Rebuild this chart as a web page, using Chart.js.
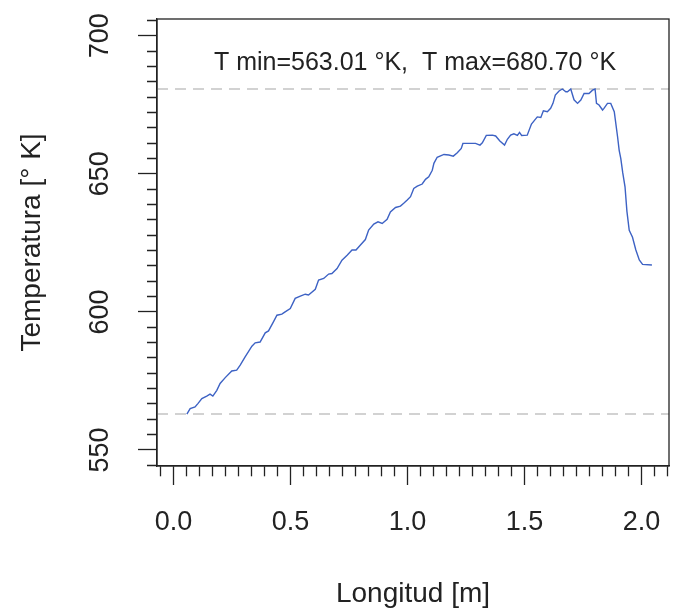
<!DOCTYPE html>
<html><head><meta charset="utf-8">
<script src="https://cdn.jsdelivr.net/npm/chart.js@4.4.1/dist/chart.umd.min.js"></script>
<style>html,body{margin:0;padding:0;background:#fff;} #wrap{width:675px;height:614px;position:relative;}</style>
</head><body><div id="wrap"><canvas id="c"></canvas></div>
<script>
// ---- data ----
const longitud = [0.057,0.071,0.092,0.104,0.121,0.142,0.156,0.168,0.185,0.199,0.221,0.249,0.270,0.285,0.306,0.335,0.349,0.370,0.392,0.406,0.427,0.442,0.463,0.477,0.499,0.520,0.542,0.563,0.577,0.606,0.620,0.642,0.663,0.677,0.699,0.720,0.742,0.763,0.780,0.799,0.820,0.834,0.856,0.874,0.892,0.913,0.927,0.949,0.970,0.984,0.999,1.013,1.027,1.042,1.063,1.077,1.091,1.106,1.113,1.127,1.156,1.177,1.196,1.213,1.230,1.237,1.263,1.291,1.310,1.320,1.337,1.363,1.377,1.395,1.415,1.427,1.441,1.455,1.470,1.479,1.488,1.512,1.530,1.555,1.570,1.581,1.598,1.612,1.622,1.632,1.648,1.662,1.677,1.684,1.698,1.712,1.727,1.741,1.755,1.776,1.791,1.802,1.808,1.819,1.834,1.840,1.855,1.869,1.884,1.898,1.905,1.912,1.920,1.930,1.938,1.948,1.962,1.976,1.991,2.005,2.045];
const temperatura = [563.0,565.0,565.6,566.8,568.6,569.5,570.2,569.5,571.6,574.1,576.2,578.6,578.9,580.7,583.7,587.6,588.8,589.1,592.4,593.1,596.4,598.8,599.2,600.0,601.2,604.9,605.7,606.4,606.1,608.2,611.5,612.1,613.7,613.9,615.7,618.7,620.5,622.4,622.4,624.2,626.2,629.6,631.8,632.6,632.0,633.5,636.2,637.8,638.3,639.3,640.5,641.7,644.7,645.5,646.3,648.0,648.9,651.3,653.8,656.0,657.0,656.8,656.4,657.6,659.2,661.0,661.0,661.0,660.4,661.2,663.9,664.0,663.7,661.9,660.4,662.5,664.0,664.5,663.9,665.0,663.9,664.0,668.0,670.6,670.4,672.8,672.5,673.7,675.5,678.5,680.0,680.7,679.7,679.7,680.7,676.8,675.5,676.7,679.1,679.1,680.3,680.7,675.5,674.9,673.1,673.7,675.5,675.5,672.5,663.5,658.5,655.5,650.5,645.3,636.5,629.5,627.0,622.5,618.8,617.2,617.0];
const refLines = [563.01, 680.70];
const xTickValues = [0, 0.5, 1.0, 1.5, 2.0];
const xTickLabels = ['0.0', '0.5', '1.0', '1.5', '2.0'];
const yTickValues = [550, 600, 650, 700];
const yTickLabels = ['550', '600', '650', '700'];
const annotationText = 'T min=563.01 °K,  T max=680.70 °K';
const xTitle = 'Longitud [m]';
const yTitle = 'Temperatura [° K]';

// ---- styling / layout ----
const FONT = '"Liberation Sans", Arial, sans-serif';
const INK = '#222';
const MAJOR_LEN = 19, MINOR_LEN = 10, MINOR_DIV = 9;
const X_MIN = -0.0707, X_MAX = 2.118, Y_MIN = 544.2, Y_MAX = 706.05;

function buildTicks(majors, lo, hi) {
  const step = (majors[1] - majors[0]) / MINOR_DIV;
  const out = [];
  for (let k = -MINOR_DIV; k <= (majors.length) * MINOR_DIV; k++) {
    const v = majors[0] + k * step;
    if (v >= lo - 1e-9 && v <= hi + 1e-9) out.push({ value: v });
  }
  return out;
}
function majorIndex(majors, v) {
  return majors.findIndex(m => Math.abs(m - v) < 1e-6);
}

const points = longitud.map((x, i) => ({ x, y: temperatura[i] }));

const framePlugin = {
  id: 'frame',
  beforeDatasetsDraw(chart) {
    const { ctx, chartArea: a, scales: { y } } = chart;
    ctx.save();
    ctx.strokeStyle = '#c4c4c4';
    ctx.lineWidth = 1.5;
    ctx.setLineDash([11, 7]);
    refLines.forEach(v => {
      const py = y.getPixelForValue(v);
      ctx.beginPath(); ctx.moveTo(a.left, py); ctx.lineTo(a.right, py); ctx.stroke();
    });
    ctx.restore();
  },
  afterDatasetsDraw(chart) {
    const { ctx, chartArea: a, scales: { y } } = chart;
    ctx.save();
    ctx.strokeStyle = INK;
    ctx.lineWidth = 1.3;
    ctx.strokeRect(a.left, a.top, a.right - a.left, a.bottom - a.top);
    ctx.fillStyle = '#222';
    ctx.font = '25px ' + FONT;
    ctx.textAlign = 'center';
    ctx.textBaseline = 'middle';
    ctx.fillText(annotationText, (a.left + a.right) / 2 + 2, y.getPixelForValue(690));
    ctx.restore();
  }
};

new Chart(document.getElementById('c'), {
  type: 'line',
  data: {
    datasets: [{
      data: points,
      borderColor: '#3d62c4',
      borderWidth: 1.4,
      pointRadius: 0,
      tension: 0,
      fill: false
    }]
  },
  options: {
    responsive: true,
    maintainAspectRatio: false,
    animation: false,
    events: [],
    layout: { padding: { left: 0, top: 19, right: 6, bottom: 0 } },
    plugins: { legend: { display: false }, tooltip: { enabled: false } },
    scales: {
      x: {
        type: 'linear',
        position: 'bottom',
        min: X_MIN, max: X_MAX,
        afterBuildTicks: s => { s.ticks = buildTicks(xTickValues, X_MIN, X_MAX); },
        afterFit: s => { s.height = 148; s.paddingLeft = 0; s.paddingRight = 0; },
        border: { display: true, color: INK, width: 1.3 },
        grid: {
          drawOnChartArea: false, drawTicks: true, tickLength: MAJOR_LEN,
          tickColor: INK, tickWidth: 1.3,
          tickBorderDash: ctx => majorIndex(xTickValues, ctx.tick.value) >= 0 ? [] : [MINOR_LEN, 40]
        },
        ticks: {
          autoSkip: false, maxRotation: 0, minRotation: 0, padding: 21,
          color: INK, font: { family: FONT, size: 27 },
          callback: v => { const i = majorIndex(xTickValues, v); return i >= 0 ? xTickLabels[i] : ''; }
        },
        title: { display: true, text: xTitle, color: INK, font: { family: FONT, size: 28 }, padding: { top: 0, bottom: 3 } }
      },
      y: {
        type: 'linear',
        position: 'left',
        min: Y_MIN, max: Y_MAX,
        afterBuildTicks: s => { s.ticks = buildTicks(yTickValues, Y_MIN, Y_MAX); },
        afterFit: s => { s.width = 157; s.paddingTop = 0; s.paddingBottom = 0; },
        border: { display: true, color: INK, width: 1.3 },
        grid: {
          drawOnChartArea: false, drawTicks: true, tickLength: MAJOR_LEN,
          tickColor: INK, tickWidth: 1.3,
          tickBorderDash: ctx => majorIndex(yTickValues, ctx.tick.value) >= 0 ? [] : [0, MAJOR_LEN - MINOR_LEN, MINOR_LEN + 30]
        },
        ticks: {
          autoSkip: false, minRotation: 90, maxRotation: 90, crossAlign: 'center', padding: 15,
          color: INK, font: { family: FONT, size: 27 },
          callback: v => { const i = majorIndex(yTickValues, v); return i >= 0 ? yTickLabels[i] : ''; }
        },
        title: { display: true, text: yTitle, color: INK, font: { family: FONT, size: 28 }, padding: { top: 15, bottom: 0 } }
      }
    }
  },
  plugins: [framePlugin]
});
</script>
</body></html>
